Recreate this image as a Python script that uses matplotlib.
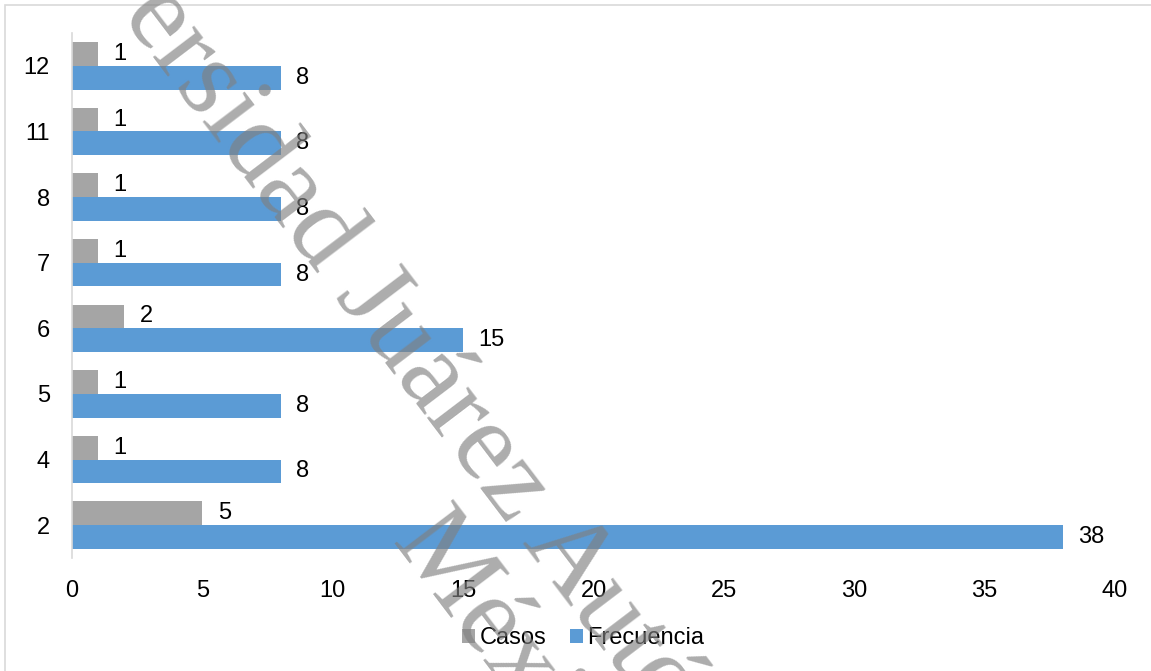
import numpy as np
import matplotlib.pyplot as plt
from matplotlib.patches import Rectangle

# datos
categorias = ["2", "4", "5", "6", "7", "8", "11", "12"]
casos = [5, 1, 1, 2, 1, 1, 1, 1]
frecuencia = [38, 8, 8, 15, 8, 8, 8, 8]
xticks = [0, 5, 10, 15, 20, 25, 30, 35, 40]

gris = "#A5A5A5"
azul = "#5B9BD5"

plt.rcParams['font.family'] = ['Liberation Sans', 'DejaVu Sans']
fs = 17

W, H = 1151, 671
fig = plt.figure(figsize=(W / 100, H / 100), dpi=100)
ax = fig.add_axes([72 / W, 1 - 558 / H, (1115 - 72) / W, (558 - 33) / H])

y = np.arange(len(categorias))
h = 0.361
b1 = ax.barh(y + h / 2, casos, height=h, color=gris, label="Casos")
b2 = ax.barh(y - h / 2, frecuencia, height=h, color=azul, label="Frecuencia")

ax.bar_label(b1, padding=11, fontsize=fs)
ax.bar_label(b2, padding=11, fontsize=fs)

ax.set_xlim(0, 40)
ax.set_ylim(-0.5, len(categorias) - 0.5)
ax.set_xticks(xticks)
ax.set_yticks(y)
ax.set_yticklabels(categorias)
ax.tick_params(axis='both', length=0, labelsize=fs)
ax.tick_params(axis='y', pad=16)
ax.tick_params(axis='x', pad=16)

for s in ['top', 'right', 'bottom']:
    ax.spines[s].set_visible(False)
ax.spines['left'].set_color("#D9D9D9")
ax.spines['left'].set_linewidth(1.2)

fig.legend(handles=[b1, b2], labels=["Casos", "Frecuencia"], loc='center',
           bbox_to_anchor=(583 / W, 1 - 638 / H), ncol=2, frameon=False,
           fontsize=fs, handlelength=0.55, handleheight=0.55,
           handletextpad=0.2, columnspacing=1.0)

# marco del area del grafico
fig.patches.append(Rectangle((5 / W, -0.1), 1.2, 1.1 - 5 / H, transform=fig.transFigure,
                             fill=False, edgecolor="#D9D9D9", linewidth=1.2))

# marca de agua (diagonal, gris semitransparente)
ang = -52.8
wm_fs = 81
wm_font = ['Liberation Serif', 'DejaVu Serif']
em = wm_fs * 100 / 72
rad = np.deg2rad(ang)
d = np.array([np.cos(rad), -np.sin(rad)])    # direccion de lectura (pantalla, y hacia abajo)
up = np.array([-np.sin(rad), -np.cos(rad)])  # hacia arriba del texto
rend = fig.canvas.get_renderer()


def ancho(s):
    t = fig.text(0, 0, s, fontsize=wm_fs, family=wm_font)
    w = t.get_window_extent(rend).width
    t.remove()
    return w


def marca(texto, i, centro):
    # coloca el texto de modo que el caracter i quede centrado en 'centro' (px)
    off = ancho(texto[:i + 1]) - ancho(texto[i]) / 2
    p = np.array(centro) - d * off - up * 0.33 * em
    fig.text(p[0] / W, 1 - p[1] / H, texto, rotation=ang, rotation_mode='anchor',
             ha='left', va='baseline', fontsize=wm_fs, family=wm_font,
             color='gray', alpha=0.65, zorder=10)


linea1 = "Universidad Juárez Autónoma de Tabasco."
marca(linea1, linea1.index("A"), (575, 553))
marca("México.", 0, (450, 560))

fig.savefig("out.png", dpi=100)
